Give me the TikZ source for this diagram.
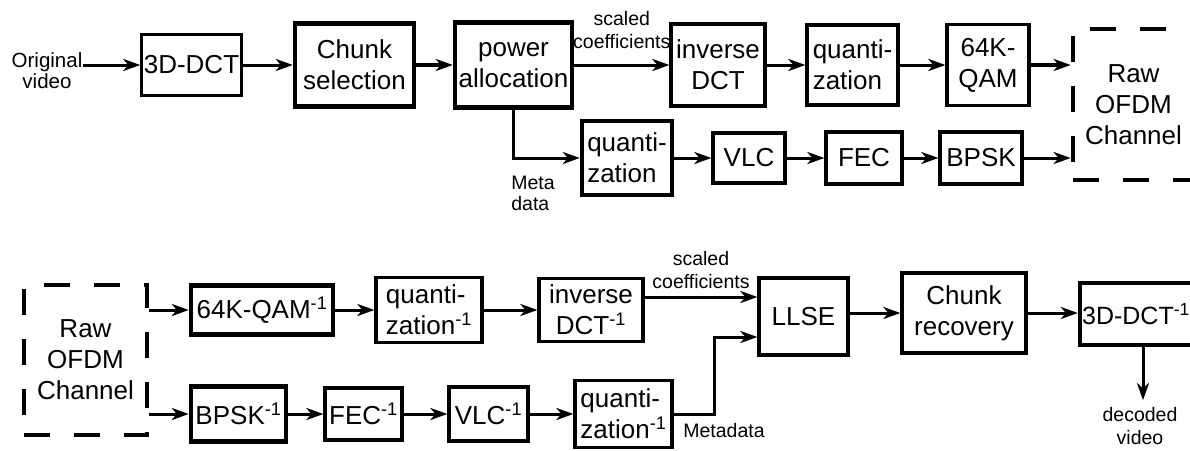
\documentclass[tikz,border=0pt]{standalone}
\usepackage{fontspec}
\setmainfont{Liberation Sans}
\usetikzlibrary{arrows.meta}

\tikzset{
  blk/.style={draw, line width=3.2pt, align=center, inner sep=2pt, font=\fontsize{26}{31}\selectfont},
  blkb/.style={blk, line width=4.4pt},
  chan/.style={blk, line width=4.7pt, dash pattern=on 26pt off 24pt},
  lbl/.style={align=center, inner sep=0pt, font=\fontsize{19.5}{23}\selectfont},
  arr/.style={-{Stealth[length=17pt,width=12pt,inset=5pt]}, line width=3pt},
}

\begin{document}
\begin{tikzpicture}[x=1pt,y=-1pt]
  \useasboundingbox (0,0) rectangle (1190,450);

  % sender
  \node[lbl, font=\fontsize{20.5}{21}\selectfont] (orig) at (47,71) {Original\\video};
  \node[blk, minimum width=99, minimum height=61] (dct) at (191.5,65) {3D-DCT};
  \node[blkb, minimum width=119, minimum height=83] (chunk) at (354.5,65) {Chunk\\selection};
  \node[blkb, minimum width=117, minimum height=85] (power) at (513.5,65) {power\\allocation};
  \node[blk, minimum width=94, minimum height=82] (invdct) at (718,65) {inverse\\DCT};
  \node[blk, align=left, minimum width=91, minimum height=80] (quant) at (852.5,65) {quanti-\\zation};
  \node[blk, minimum width=82, minimum height=81] (qam) at (988,65) {64K-\\QAM};
  \node[chan, minimum width=121, minimum height=151] (rawtx) at (1133.5,104.5) {Raw\\OFDM\\Channel};

  \node[blkb, align=left, minimum width=90, minimum height=74] (quantm) at (627,158) {quanti-\\zation};
  \node[blk, minimum width=72, minimum height=50] (vlc) at (749,158) {VLC};
  \node[blk, minimum width=76, minimum height=52] (fec) at (864,158) {FEC};
  \node[blk, minimum width=82, minimum height=52] (bpsk) at (981,158) {BPSK};
  \node[lbl, align=left, font=\fontsize{19.5}{21}\selectfont] (meta) at (533,193) {Meta\\data};

  \draw[arr] (orig.east |- dct.west) -- (dct.west);
  \draw[arr] (dct) -- (chunk);
  \draw[arr, line width=4.4pt] (chunk) -- (power);
  \draw[arr] (power) -- node[lbl, above=15pt] (sctop) {scaled\\coefficients} (invdct);
  \draw[arr] (invdct) -- (quant);
  \draw[arr] (quant) -- (qam);
  \draw[arr, line width=4pt] (qam) -- (qam -| rawtx.west);
  \draw[arr] (power.south) |- (quantm.west);
  \draw[arr] (quantm) -- (vlc);
  \draw[arr] (vlc) -- (fec);
  \draw[arr] (fec) -- (bpsk);
  \draw[arr] (bpsk) -- (bpsk -| rawtx.west);

  % receiver
  \node[chan, minimum width=123, minimum height=150] (rawrx) at (85.5,360) {Raw\\OFDM\\Channel};
  \node[blkb, minimum width=142, minimum height=49] (iqam) at (262,310) {64K-QAM\textsuperscript{-1}};
  \node[blk, align=left, minimum width=106, minimum height=65] (iquant) at (429,310) {quanti-\\zation\textsuperscript{-1}};
  \node[blk, minimum width=104, minimum height=63] (iinvdct) at (591,310) {inverse\\DCT\textsuperscript{-1}};
  \node[blk, minimum width=89, minimum height=77] (llse) at (803.5,316.5) {LLSE};
  \node[blk, minimum width=124, minimum height=80] (crec) at (964,313) {Chunk\\recovery};
  \node[blkb, minimum width=126, minimum height=62, font=\fontsize{25}{30}\selectfont] (idct) at (1143,314) {3D-DCT\textsuperscript{-1}\hspace*{14pt}};
  \node[lbl, font=\fontsize{19.5}{23}\selectfont] (decoded) at (1140,426) {decoded\\video};

  \node[blkb, minimum width=95, minimum height=55] (ibpsk) at (238.5,414) {BPSK\textsuperscript{-1}};
  \node[blk, minimum width=77, minimum height=52] (ifec) at (363.5,414) {FEC\textsuperscript{-1}};
  \node[blk, minimum width=79, minimum height=54] (ivlc) at (488.5,414) {VLC\textsuperscript{-1}};
  \node[blk, align=left, minimum width=97, minimum height=67] (iquantm) at (623.5,414) {quanti-\\zation\textsuperscript{-1}};
  \node[lbl] (metadata) at (724,431) {Metadata};

  \draw[arr] (rawrx.east |- iqam) -- (iqam);
  \draw[arr] (iqam) -- (iquant);
  \draw[arr] (iquant) -- (iinvdct);
  \draw[arr] ([yshift=13pt]iinvdct.east) -- node[lbl, above=7pt] (scbot) {scaled\\coefficients} ([yshift=13pt]iinvdct.east -| llse.west);
  \draw[arr] (llse.east |- crec) -- (crec);
  \draw[arr] (crec) -- (crec -| idct.west);
  \draw[arr] (idct.south) -- ([yshift=7pt]idct.south |- decoded.north);

  \draw[arr] (rawrx.east |- ibpsk) -- (ibpsk);
  \draw[arr] (ibpsk) -- (ifec);
  \draw[arr] (ifec) -- (ivlc);
  \draw[arr] (ivlc) -- (iquantm);
  \draw[arr] (iquantm.east) -- ++(41,0) |- ([yshift=-20.5pt]llse.west);
\end{tikzpicture}
\end{document}
